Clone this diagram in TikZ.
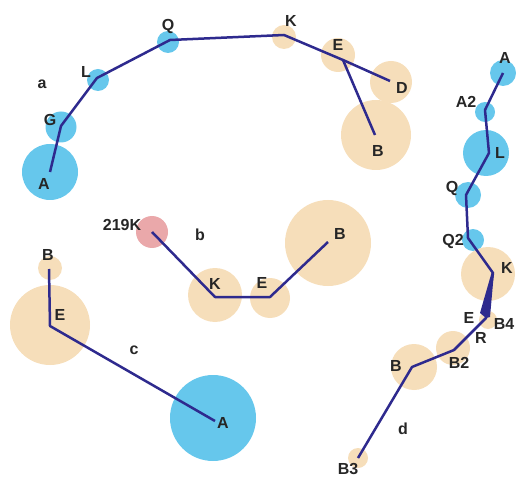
\documentclass[tikz,border=0pt]{standalone}
\usepackage{fontspec}
\setmainfont{Liberation Sans}
\begin{document}
\begin{tikzpicture}[x=1pt,y=-1pt,
  blu/.style={circle,fill=bubblue,inner sep=0pt,minimum size=#1},
  tan/.style={circle,fill=bubtan,inner sep=0pt,minimum size=#1},
  pnk/.style={circle,fill=bubpink,inner sep=0pt,minimum size=#1},
  lab/.style={font=\bfseries\fontsize{16}{16}\selectfont,text=black!85,inner sep=0pt},
  edge/.style={draw=linecol,line width=2.5pt,line join=round}]
\definecolor{bubblue}{RGB}{102,199,236}
\definecolor{bubtan}{RGB}{246,222,186}
\definecolor{bubpink}{RGB}{234,168,170}
\definecolor{linecol}{RGB}{46,42,142}
\useasboundingbox (0,0) rectangle (516,478);
% ---------- tree a ----------
\node[blu=56] (aA) at (50,172) {};
\node[blu=31] (aG) at (61,127) {};
\node[blu=22] (aL) at (98,80) {};
\node[blu=22] (aQ) at (168,42) {};
\node[tan=24] (aK) at (284,37) {};
\node[tan=34] (aE) at (338,55) {};
\node[tan=42] (aD) at (391,82) {};
\node[tan=70] (aB) at (376,135) {};
\coordinate (vaA) at (50,172);
\coordinate (vaG) at (61,126);
\coordinate (vaL) at (97,78);
\coordinate (vaQ) at (170,40);
\coordinate (vaK) at (284,35);
\coordinate (vaE) at (343,60);
\coordinate (vaD) at (390,81);
\coordinate (vaB) at (375,135);
\draw[edge] (vaA) -- (vaG) -- (vaL) -- (vaQ) -- (vaK) -- (vaE) -- (vaD);
\draw[edge] (vaE) -- (vaB);
\node[lab] at (44,184) {A};
\node[lab] at (50,120) {G};
\node[lab] at (86,72) {L};
\node[lab] at (168,26) {Q};
\node[lab] at (291,21) {K};
\node[lab] at (338,45) {E};
\node[lab] at (402,88) {D};
\node[lab] at (378,151) {B};
\node[lab] at (42,84) {a};
% ---------- tree b ----------
\node[pnk=32] (b219) at (152,232) {};
\node[tan=54] (bK) at (215,295) {};
\node[tan=40] (bE) at (270,298) {};
\node[tan=86] (bB) at (328,243) {};
\coordinate (vb219) at (152,232);
\coordinate (vbK) at (215,297);
\coordinate (vbE) at (270,297);
\coordinate (vbB) at (328,242);
\draw[edge] (vb219) -- (vbK) -- (vbE) -- (vbB);
\node[lab] at (122,225) {219K};
\node[lab] at (215,284) {K};
\node[lab] at (262,283) {E};
\node[lab] at (340,234) {B};
\node[lab] at (200,235) {b};
% ---------- tree c ----------
\node[tan=24] (cB) at (50,268) {};
\node[tan=80] (cE) at (50,325) {};
\node[blu=86] (cA) at (213,418) {};
\coordinate (vcB) at (49,269);
\coordinate (vcE) at (50,326);
\coordinate (vcA) at (215,421);
\draw[edge] (vcB) -- (vcE) -- (vcA);
\node[lab] at (48,255) {B};
\node[lab] at (60,315) {E};
\node[lab] at (223,423) {A};
\node[lab] at (134,350) {c};
% ---------- tree d ----------
\node[blu=26] (dA) at (503,73) {};
\node[blu=20] (dA2) at (485,112) {};
\node[blu=46] (dL) at (486,153) {};
\node[blu=26] (dQ) at (468,195) {};
\node[blu=22] (dQ2) at (473,240) {};
\node[tan=54] (dK) at (488,274) {};
\node[tan=18] (dE) at (488,320) {};
\node[tan=34] (dB2) at (453,348) {};
\node[tan=46] (dB) at (414,367) {};
\node[tan=20] (dB3) at (358,458) {};
\coordinate (vdA) at (503,73);
\coordinate (vdA2) at (485,110);
\coordinate (vdL) at (489,153);
\coordinate (vdQ) at (466,195);
\coordinate (vdQ2) at (468,238);
\coordinate (vdK) at (493,273);
\coordinate (vdE) at (486,318);
\coordinate (vdB2) at (454,350);
\coordinate (vdB) at (412,367);
\coordinate (vdB3) at (358,458);
\draw[edge] (vdA) -- (vdA2) -- (vdL) -- (vdQ) -- (vdQ2) -- (vdK) -- (vdE) -- (vdB2) -- (vdB) -- (vdB3);
\fill[linecol] ([shift={(1,-1)}]vdK) -- ([shift={(-1.5,0)}]vdK) -- (480,313) -- (vdE) -- (490,317) -- cycle;
\node[lab] at (505,58) {A};
\node[lab] at (466,102) {A2};
\node[lab] at (500,153) {L};
\node[lab] at (452,188) {Q};
\node[lab] at (453,241) {Q2};
\node[lab] at (507,268) {K};
\node[lab] at (469,318) {E};
\node[lab] at (504,324) {B4};
\node[lab] at (481,338) {R};
\node[lab] at (459,363) {B2};
\node[lab] at (396,366) {B};
\node[lab] at (348,469) {B3};
\node[lab] at (403,429) {d};
\end{tikzpicture}
\end{document}
